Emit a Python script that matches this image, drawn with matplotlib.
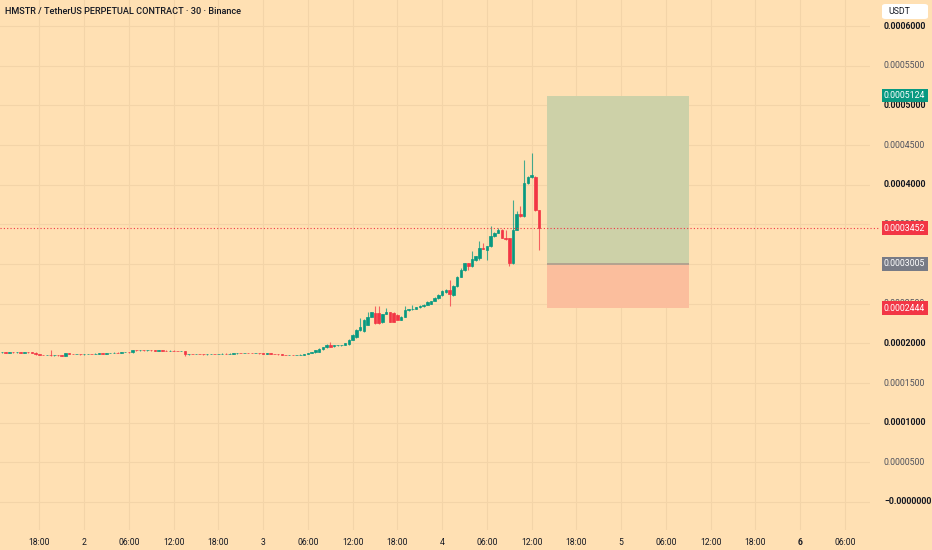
import matplotlib
matplotlib.use("Agg")
import matplotlib.pyplot as plt
import numpy as np
from matplotlib.patches import Rectangle, FancyBboxPatch
from matplotlib.transforms import blended_transform_factory

# ---------------- data (prices in units of 1e-7 USDT) ----------------
opens_e7 = [
    1885, 1887, 1884, 1886, 1885, 1887, 1884, 1886, 1885, 1884,
    1860, 1853, 1850, 1852, 1848, 1851, 1849, 1846, 1872, 1866,
    1863, 1868, 1862, 1865, 1868, 1866, 1870, 1873, 1871, 1876,
    1880, 1884, 1882, 1888, 1893, 1886, 1915, 1912, 1914, 1911,
    1913, 1910, 1908, 1911, 1907, 1905, 1908, 1906, 1903, 1905,
    1860, 1866, 1864, 1868, 1865, 1862, 1866, 1868, 1864, 1866,
    1869, 1866, 1870, 1873, 1878, 1876, 1880, 1878, 1876, 1879,
    1873, 1870, 1872, 1868, 1866, 1860, 1856, 1852, 1855, 1850,
    1853, 1858, 1866, 1875,
    1885, 1891, 1923, 1948, 1985, 1967, 1973, 1975, 1979, 1992,
    2042, 2074, 2168, 2156, 2231, 2338, 2383, 2383, 2263, 2376,
    2389, 2383, 2357, 2294, 2338, 2414, 2427, 2439, 2452, 2465,
    2483, 2502, 2534, 2568, 2609, 2647, 2673, 2609, 2723, 2836,
    2925, 3013, 2969, 3051, 3076, 3208, 3177, 3221, 3347, 3395,
    3435, 3334, 3322, 3007, 3435, 3631, 3599, 4015, 4097, 4103,
    3675,
]
closes_e7 = [
    1887, 1884, 1886, 1885, 1887, 1884, 1886, 1885, 1884, 1860,
    1853, 1850, 1852, 1848, 1851, 1849, 1846, 1872, 1866, 1863,
    1868, 1862, 1865, 1868, 1866, 1870, 1873, 1871, 1876, 1880,
    1884, 1882, 1888, 1893, 1886, 1915, 1912, 1914, 1911, 1913,
    1910, 1908, 1911, 1907, 1905, 1908, 1906, 1903, 1905, 1860,
    1866, 1864, 1868, 1865, 1862, 1866, 1868, 1864, 1866, 1869,
    1866, 1870, 1873, 1878, 1876, 1880, 1878, 1876, 1879, 1873,
    1870, 1872, 1868, 1866, 1860, 1856, 1852, 1855, 1850, 1853,
    1858, 1866, 1875, 1885,
    1910, 1929, 1948, 1985, 1960, 1979, 1979, 1982, 1998, 2042,
    2105, 2168, 2212, 2294, 2338, 2389, 2256, 2256, 2364, 2389,
    2275, 2275, 2294, 2338, 2414, 2427, 2439, 2452, 2471, 2483,
    2517, 2528, 2568, 2609, 2666, 2673, 2622, 2723, 2836, 2925,
    3007, 2975, 3057, 3095, 3208, 3189, 3221, 3347, 3395, 3429,
    3328, 3315, 3007, 3435, 3631, 3599, 4015, 4103, 4116, 3675,
    3452,
]
highs_e7 = [
    1890, 1890, 1890, 1889, 1890, 1890, 1889, 1889, 1888, 1887,
    1863, 1856, 1855, 1910, 1854, 1854, 1852, 1875, 1875, 1869,
    1871, 1871, 1868, 1871, 1871, 1873, 1876, 1876, 1879, 1883,
    1887, 1887, 1891, 1896, 1896, 1918, 1918, 1917, 1917, 1916,
    1916, 1913, 1914, 1914, 1910, 1911, 1911, 1909, 1908, 1908,
    1869, 1869, 1871, 1871, 1868, 1869, 1871, 1871, 1869, 1872,
    1872, 1873, 1876, 1881, 1881, 1883, 1883, 1881, 1882, 1882,
    1876, 1875, 1875, 1871, 1869, 1863, 1859, 1858, 1858, 1856,
    1861, 1869, 1878, 1888,
    1916, 1935, 1954, 1992, 2011, 1985, 1985, 1985, 2004, 2049,
    2118, 2181, 2319, 2307, 2401, 2401, 2471, 2465, 2370, 2446,
    2395, 2389, 2370, 2345, 2471, 2433, 2483, 2458, 2477, 2490,
    2528, 2534, 2578, 2616, 2673, 2679, 2799, 2736, 2849, 2950,
    3013, 3019, 3158, 3101, 3284, 3271, 3227, 3473, 3404, 3454,
    3442, 3429, 3328, 3801, 3668, 3725, 4311, 4110, 4400, 4110,
    3681,
]
lows_e7 = [
    1882, 1882, 1881, 1881, 1882, 1881, 1881, 1882, 1881, 1857,
    1850, 1847, 1847, 1845, 1845, 1846, 1843, 1843, 1863, 1860,
    1860, 1859, 1859, 1862, 1863, 1863, 1867, 1868, 1868, 1873,
    1877, 1879, 1879, 1885, 1883, 1883, 1909, 1909, 1908, 1908,
    1907, 1905, 1905, 1904, 1902, 1902, 1903, 1900, 1900, 1835,
    1857, 1861, 1861, 1862, 1859, 1859, 1863, 1861, 1861, 1863,
    1863, 1863, 1867, 1870, 1873, 1873, 1875, 1873, 1873, 1870,
    1867, 1867, 1865, 1863, 1857, 1853, 1849, 1849, 1847, 1847,
    1850, 1855, 1863, 1872,
    1878, 1885, 1916, 1941, 1954, 1960, 1966, 1969, 1973, 1985,
    2036, 2067, 2156, 2143, 2225, 2332, 2250, 2250, 2256, 2370,
    2269, 2269, 2288, 2288, 2332, 2408, 2420, 2433, 2446, 2458,
    2477, 2496, 2528, 2562, 2603, 2635, 2465, 2603, 2710, 2830,
    2918, 2925, 2962, 3044, 3051, 3183, 3051, 3215, 3341, 3391,
    3322, 3303, 2975, 2994, 3429, 3593, 3593, 4009, 4084, 3668,
    3177,
]

time_tick_idx = [10, 22, 34, 46, 58, 70, 82, 94, 106, 118, 130, 142,
                 154, 166, 178, 190, 202, 214, 226]
time_tick_labels = ["18:00", "2", "06:00", "12:00", "18:00", "3", "06:00",
                    "12:00", "18:00", "4", "06:00", "12:00", "18:00", "5",
                    "06:00", "12:00", "18:00", "6", "06:00"]

grid_prices = [0.0, 0.00005, 0.0001, 0.00015, 0.0002, 0.00025, 0.0003,
               0.00035, 0.0004, 0.00045, 0.0005, 0.00055, 0.0006]
# price-scale labels that are visible (0.0003000 is hidden behind the entry tag)
price_ticks = [0.0, 0.00005, 0.0001, 0.00015, 0.0002, 0.00025,
               0.00035, 0.0004, 0.00045, 0.0005, 0.00055, 0.0006]
price_tick_labels = ["\u22120.0000000", "0.0000500", "0.0001000", "0.0001500",
                     "0.0002000", "0.0002500", "0.0003500",
                     "0.0004000", "0.0004500", "0.0005000", "0.0005500",
                     "0.0006000"]
price_tick_bold = [True, False, True, False, True, False, False,
                   True, False, True, False, True]

entry_price = 0.0003005
target_price = 0.0005124
stop_price = 0.0002444
last_price = 0.0003452
pos_start_idx = 146.1
pos_end_idx = 184.2

title = "HMSTR / TetherUS PERPETUAL CONTRACT \u00b7 30 \u00b7 Binance"

# ---------------- styling ----------------
BG = "#FFE0B3"
GREEN = "#089981"
RED = "#F23645"
GRID = "#F3D4A8"
plt.rcParams["font.family"] = ["Roboto", "DejaVu Sans"]

opens = np.array(opens_e7) * 1e-7
closes = np.array(closes_e7) * 1e-7
highs = np.array(highs_e7) * 1e-7
lows = np.array(lows_e7) * 1e-7
idx = np.arange(len(opens))

W, H = 932, 550
fig = plt.figure(figsize=(W / 100, H / 100), dpi=100, facecolor=BG)
ax = fig.add_axes([0, 20 / H, 870 / W, 530 / H], facecolor=BG)
for s in ax.spines.values():
    s.set_visible(False)

ax.set_xlim(-0.54, 232.7)
ax.set_ylim(-0.0000353, 0.0006328)

# grid
for v in grid_prices:
    ax.axhline(v, color=GRID, lw=0.8, zorder=0)
for t in time_tick_idx:
    ax.axvline(t, color=GRID, lw=0.8, zorder=0)

# position box
ax.add_patch(Rectangle((pos_start_idx, entry_price), pos_end_idx - pos_start_idx,
                       target_price - entry_price, fc="#CDD1A8", ec="none", zorder=1))
ax.add_patch(Rectangle((pos_start_idx, stop_price), pos_end_idx - pos_start_idx,
                       entry_price - stop_price, fc="#FBBE9D", ec="none", zorder=1))
ax.plot([pos_start_idx, pos_end_idx], [entry_price, entry_price], color="#B0A08E",
        lw=1.3, zorder=2, solid_capstyle="butt")

# candles
up = closes >= opens
colors = np.where(up, GREEN, RED)
ax.vlines(idx, lows, highs, colors=colors, lw=0.8, alpha=0.75, zorder=3)
bottoms = np.minimum(opens, closes)
heights = np.abs(closes - opens)
ax.bar(idx, heights, bottom=bottoms, width=0.68, color=colors, edgecolor=colors,
       lw=0.5, zorder=4)

# last price dotted line
ax.axhline(last_price, color=RED, lw=0.8, ls=(0, (1, 2)), zorder=5)
trans = blended_transform_factory(fig.transFigure, ax.transData)
ax.plot([870 / W, 880 / W], [last_price, last_price], color=RED, lw=0.8,
        ls=(0, (1, 2)), transform=trans, clip_on=False)

# x ticks
ax.set_xticks(time_tick_idx)
ax.set_xticklabels(time_tick_labels)
ax.tick_params(axis="x", length=0, pad=6, labelsize=6.2, colors="#131722")
for lab in ax.get_xticklabels():
    if lab.get_text() == "6":
        lab.set_fontweight("bold")
ax.set_yticks([])

# price axis labels
lx = 884 / W
for v, lab, b in zip(price_ticks, price_tick_labels, price_tick_bold):
    ax.text(lx, v, lab, transform=trans, ha="left", va="center", fontsize=6.3,
            fontweight="bold" if b else "normal",
            color="#131722" if b else "#50535E", clip_on=False, zorder=6)

def price_tag(v, color):
    ax.text(lx, v, f"{v:.7f}", transform=trans, ha="left", va="center",
            fontsize=6.3, color="white", clip_on=False, zorder=8,
            bbox=dict(boxstyle="square,pad=0.28", fc=color, ec="none"))

price_tag(target_price, GREEN)
price_tag(last_price, RED)
price_tag(entry_price, "#787B86")
price_tag(stop_price, RED)

# USDT box
fig.add_artist(FancyBboxPatch((882 / W, 1 - 19 / H), 46 / W, 15 / H,
                              boxstyle="round,pad=0,rounding_size=0.004",
                              transform=fig.transFigure, fc="white", ec="none"))
fig.text(888 / W, 1 - 11.5 / H, "USDT", fontsize=6.3, color="#131722",
         ha="left", va="center")

# title
fig.text(5 / W, 1 - 11 / H, title, fontsize=6.6, fontweight="medium",
         color="#131722", ha="left", va="center")

fig.savefig("out.png", dpi=100, facecolor=BG)
